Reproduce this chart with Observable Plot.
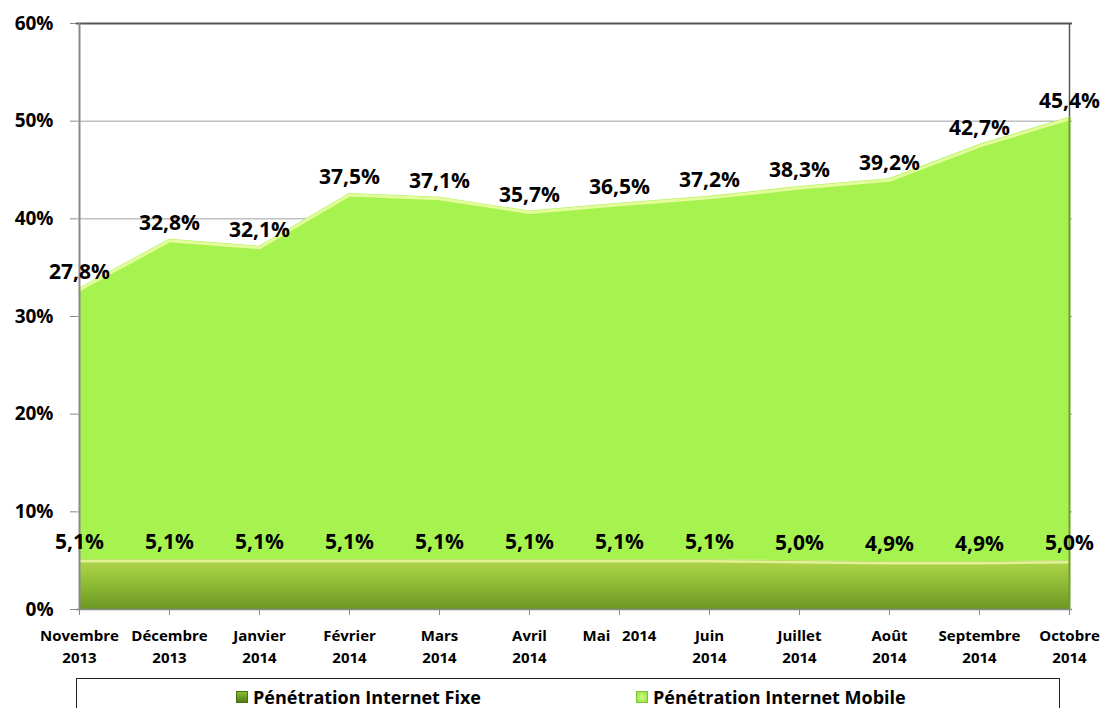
<!DOCTYPE html>
<html><head><meta charset="utf-8">
<script src="https://cdn.jsdelivr.net/npm/d3@7"></script>
<script src="https://cdn.jsdelivr.net/npm/@observablehq/plot@0.6"></script>
<style>
body{margin:0;background:#fff;font-family:"Open Sans",sans-serif;}
#chart svg{display:block;}
#legend{position:relative;margin-left:76px;width:984px;height:40px;border:1px solid #222;box-sizing:border-box;margin-top:6px;}
.item{position:absolute;top:7px;font-weight:bold;font-size:18px;line-height:22px;display:flex;align-items:center;color:#000;}
.sw{width:12px;height:12px;margin-right:5px;box-sizing:border-box;}
</style></head><body>
<div id="chart"></div>
<div id="legend">
  <div class="item" style="left:159px"><span class="sw" style="background:linear-gradient(#8cbc34,#4f7d14);border:1px solid #4a6e14"></span>Pénétration Internet Fixe</div>
  <div class="item" style="left:559px"><span class="sw" style="background:radial-gradient(#c8ff80,#96e040);border:1px solid #7cc234"></span>Pénétration Internet Mobile</div>
</div>
<script>
const months = ["Nov 2013","Dec 2013","Jan 2014","Feb 2014","Mar 2014","Apr 2014","May 2014","Jun 2014","Jul 2014","Aug 2014","Sep 2014","Oct 2014"];
const xLabels = ["Novembre\n2013","Décembre\n2013","Janvier\n2014","Février\n2014","Mars\n2014","Avril\n2014","Mai   2014","Juin\n2014","Juillet\n2014","Août\n2014","Septembre\n2014","Octobre\n2014"];
const fixe = [5.1,5.1,5.1,5.1,5.1,5.1,5.1,5.1,5.0,4.9,4.9,5.0];
const mobile = [27.8,32.8,32.1,37.5,37.1,35.7,36.5,37.2,38.3,39.2,42.7,45.4];
const yTicks = [0,10,20,30,40,50,60];

const data = months.map((m,i)=>({month:m, fixe:fixe[i], mobile:mobile[i], total:+(fixe[i]+mobile[i]).toFixed(1)}));
const fmt = v => v.toFixed(1).replace(".",",")+"%";
const last = data[data.length-1];

const svg = Plot.plot({
  width:1105, height:672,
  marginLeft:76, marginRight:33, marginTop:23, marginBottom:63,
  x:{type:"point", domain:months, padding:0},
  y:{domain:[0,60]},
  style:{fontFamily:"Open Sans", fontWeight:"bold", color:"#000", background:"#fff"},
  marks:[
    Plot.gridY(yTicks.filter(t=>t>0 && t<60), {stroke:"#a0a0a0", strokeOpacity:1}),
    Plot.areaY(data,{x:"month", y1:"fixe", y2:"total", fill:"#a6f34f"}),
    Plot.line(data,{x:"month", y:"total", stroke:"#e4fc9c", strokeWidth:3, dy:1.5}),
    Plot.areaY(data,{x:"month", y1:0, y2:"fixe", fill:"#8fbf3a"}),
    Plot.line(data,{x:"month", y:"fixe", stroke:"#e2f296", strokeWidth:2.5, dy:1.5}),
    Plot.ruleY([60], {stroke:"#555", strokeWidth:2}),
    Plot.ruleX([last], {x:"month", y1:"total", y2:60, stroke:"#555", strokeWidth:1.5}),
    Plot.ruleX([last], {x:"month", y1:0, y2:"total", stroke:"#6e9e2a", strokeWidth:2}),
    Plot.ruleX([months[0]], {stroke:"#8a8a8a", strokeWidth:2}),
    Plot.ruleY([0], {stroke:"#8a8a8a", strokeWidth:1.5}),
    Plot.axisY({ticks:yTicks, tickFormat:d=>d+"%", tickSize:6, tickPadding:17, fontSize:19, fontWeight:"bold", stroke:"#888", fill:"#000", label:null}),
    Plot.axisX({tickFormat:m=>xLabels[months.indexOf(m)], tickSize:6, tickPadding:10, fontSize:15, fontWeight:"bold", lineHeight:1.47, stroke:"#888", fill:"#000", label:null}),
    Plot.text(data,{x:"month", y:"total", text:d=>fmt(d.mobile), dy:-16, fontSize:21, fontWeight:"bold", fill:"#000"}),
    Plot.text(data,{x:"month", y:"fixe", text:d=>fmt(d.fixe), dy:-17, fontSize:21, fontWeight:"bold", fill:"#000"})
  ]
});

// gradient for the fixed-internet band
const ns = "http://www.w3.org/2000/svg";
const defs = document.createElementNS(ns,"defs");
defs.innerHTML = '<linearGradient id="gFixe" x1="0" y1="0" x2="0" y2="1">'+
  '<stop offset="0" stop-color="#b0d64c"/><stop offset="0.35" stop-color="#98c53c"/>'+
  '<stop offset="1" stop-color="#6b9722"/></linearGradient>';
svg.insertBefore(defs, svg.firstChild);
const areas = svg.querySelectorAll('g[aria-label="area"]');
if (areas.length > 1) areas[1].querySelectorAll("path").forEach(p=>p.setAttribute("fill","url(#gFixe)"));

document.getElementById("chart").appendChild(svg);
</script>
</body></html>
